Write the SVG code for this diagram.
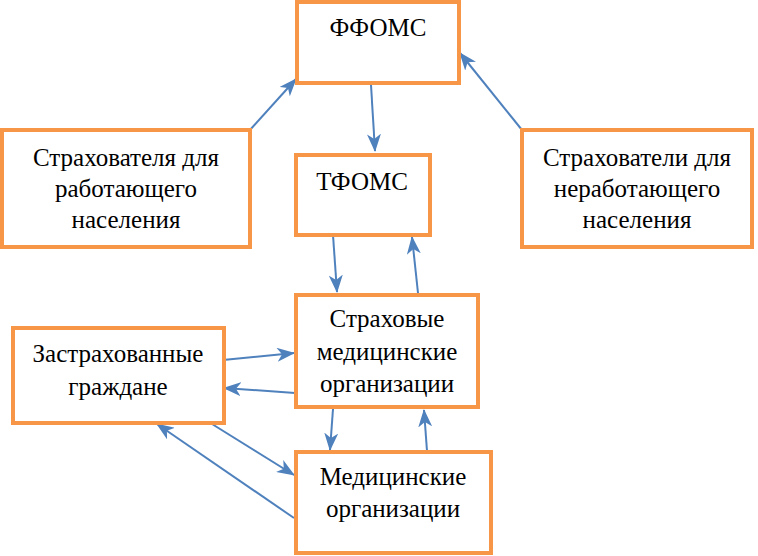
<svg xmlns="http://www.w3.org/2000/svg" width="758" height="556" viewBox="0 0 758 556">
<style>
.box{fill:#fff;stroke:#F79646;stroke-width:4}
.t{font-family:'Liberation Serif','DejaVu Serif',serif;font-size:25px;fill:#000;text-anchor:middle}
.c{stroke:#4F81BD;stroke-width:2;fill:none;marker-end:url(#ah)}
</style>
<defs>
<marker id="ah" viewBox="0 0 18 14" refX="17" refY="7" markerWidth="18" markerHeight="14" markerUnits="userSpaceOnUse" orient="auto">
<path d="M0,0 L18,7 L0,14 L5,7 Z" fill="#4F81BD"/>
</marker>
</defs>
<rect width="758" height="556" fill="#fff"/>
<g id="connectors">
<line class="c" x1="250" y1="130" x2="296" y2="79"/>
<line class="c" x1="522" y1="130" x2="460" y2="53"/>
<line class="c" x1="371" y1="85" x2="375" y2="151"/>
<line class="c" x1="333" y1="235" x2="337" y2="292"/>
<line class="c" x1="418" y1="293" x2="412" y2="237"/>
<line class="c" x1="223" y1="360" x2="294" y2="353"/>
<line class="c" x1="295" y1="393" x2="224" y2="388"/>
<line class="c" x1="333" y1="409" x2="330" y2="450"/>
<line class="c" x1="427" y1="451" x2="424" y2="410"/>
<line class="c" x1="212" y1="424" x2="294" y2="475"/>
<line class="c" x1="294" y1="518" x2="157" y2="424"/>
</g>
<g id="ffoms">
<rect class="box" x="297" y="2" width="162" height="81"/>
<text class="t" x="378" y="36">ФФОМС</text>
</g>
<g id="tfoms">
<rect class="box" x="296" y="155" width="134" height="80"/>
<text class="t" x="362" y="190">ТФОМС</text>
</g>
<g id="insurers-working">
<rect class="box" x="2" y="130" width="248" height="117"/>
<text class="t" x="126" y="166">Страхователя для</text>
<text class="t" x="126" y="197">работающего</text>
<text class="t" x="126" y="228">населения</text>
</g>
<g id="insurers-nonworking">
<rect class="box" x="522" y="130" width="230" height="117"/>
<text class="t" x="637" y="166">Страхователи для</text>
<text class="t" x="637" y="197">неработающего</text>
<text class="t" x="637" y="228">населения</text>
</g>
<g id="insured-citizens">
<rect class="box" x="13" y="328" width="211" height="95"/>
<text class="t" x="118" y="362">Застрахованные</text>
<text class="t" x="118" y="395">граждане</text>
</g>
<g id="smo">
<rect class="box" x="296" y="295" width="182" height="112"/>
<text class="t" x="387" y="327">Страховые</text>
<text class="t" x="387" y="360">медицинские</text>
<text class="t" x="387" y="392">организации</text>
</g>
<g id="mo">
<rect class="box" x="296" y="452" width="195" height="101"/>
<text class="t" x="393" y="485">Медицинские</text>
<text class="t" x="393" y="517">организации</text>
</g>
</svg>
